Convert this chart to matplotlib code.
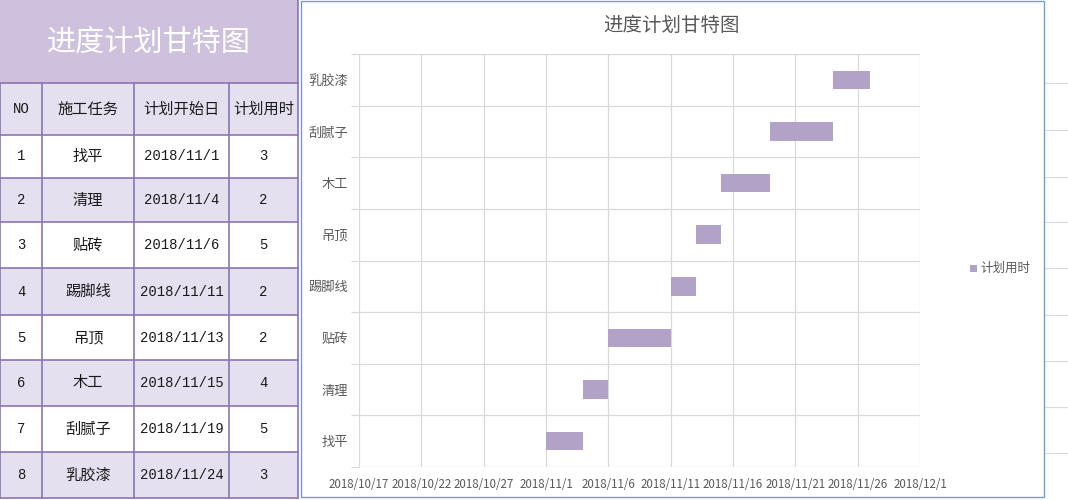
import datetime as dt
import matplotlib
matplotlib.use("Agg")
import matplotlib.pyplot as plt
import matplotlib.dates as mdates
from matplotlib.patches import Rectangle
from matplotlib.ticker import FuncFormatter, FixedLocator

plt.rcParams['font.family'] = ['Noto Sans CJK SC', 'DejaVu Sans']

# ---------------- data ----------------
title = "进度计划甘特图"
headers = ["NO", "施工任务", "计划开始日", "计划用时"]
nos = [1, 2, 3, 4, 5, 6, 7, 8]
tasks = ["找平", "清理", "贴砖", "踢脚线", "吊顶", "木工", "刮腻子", "乳胶漆"]
start_dates = ["2018/11/1", "2018/11/4", "2018/11/6", "2018/11/11",
               "2018/11/13", "2018/11/15", "2018/11/19", "2018/11/24"]
durations = [3, 2, 5, 2, 2, 4, 5, 3]
legend_label = "计划用时"
x_min_date = "2018/10/17"
x_max_date = "2018/12/1"
tick_step_days = 5

def parse(s):
    y, m, d = (int(v) for v in s.split("/"))
    return dt.date(y, m, d)

W, H = 1068, 500
fig = plt.figure(figsize=(W / 100, H / 100), dpi=100)
fig.patch.set_facecolor("white")

# ---------------- background / table layer ----------------
bg = fig.add_axes([0, 0, 1, 1])
bg.set_xlim(0, W)
bg.set_ylim(H, 0)
bg.axis("off")

purple_title = "#cdc1dd"
lav = "#e5e0ef"
border = "#8c74b4"
cols = [0, 42, 134, 229, 298]
rows = [83, 135, 178, 222, 268, 315, 360, 406, 452, 498]

# spreadsheet gridlines at right edge
for yy in [83, 130, 177, 222, 268, 315, 361, 407, 453]:
    bg.plot([1044, W], [yy, yy], color="#d9d9d9", lw=0.8, zorder=0)

# title cell
bg.add_patch(Rectangle((0, 0), 298, 83, facecolor=purple_title, edgecolor="none", zorder=1))
bg.text(149, 43, title, color="white", fontsize=21, ha="center", va="center", zorder=3)

# header + rows
for r in range(len(rows) - 1):
    y0, y1 = rows[r], rows[r + 1]
    fc = lav if r % 2 == 0 else "white"
    bg.add_patch(Rectangle((0, y0), 298, y1 - y0, facecolor=fc, edgecolor="none", zorder=1))
    yc = (y0 + y1) / 2
    if r == 0:
        vals = headers
    else:
        i = r - 1
        vals = [str(nos[i]), tasks[i], start_dates[i], str(durations[i])]
    for c, v in enumerate(vals):
        xc = (cols[c] + cols[c + 1]) / 2
        is_num = (r > 0 and c != 1) or (r == 0 and c == 0)
        if is_num:
            bg.text(xc, yc, v, fontsize=10, ha="center", va="center", color="#1a1a1a",
                    family=["Liberation Mono", "Noto Sans CJK SC"], zorder=3)
        else:
            bg.text(xc, yc, v, fontsize=11, ha="center", va="center", color="#1a1a1a", zorder=3)

for yy in rows:
    bg.plot([0, 298], [yy, yy], color=border, lw=1.2, zorder=2)
for xx in cols:
    bg.plot([xx, xx], [rows[0], rows[-1]], color=border, lw=1.2, zorder=2)
bg.plot([298, 298], [0, 83], color=border, lw=1.2, zorder=2)

# chart frame
bg.add_patch(Rectangle((300.5, 1), 743.5, 496, facecolor="white", edgecolor="#6f9bd6", lw=1.0, zorder=1))
bg.text(672, 25, title, color="#595959", fontsize=14, ha="center", va="center", zorder=3)

# legend
bg.add_patch(Rectangle((970, 265), 7, 7, facecolor="#b3a2c7", edgecolor="none", zorder=3))
bg.text(980, 268.5, legend_label, color="#595959", fontsize=9, ha="left", va="center", zorder=3)

# ---------------- gantt axes ----------------
px_l, px_r, px_t, px_b = 359, 920, 54, 467
ax = fig.add_axes([px_l / W, (H - px_b) / H, (px_r - px_l) / W, (px_b - px_t) / H])
ax.set_facecolor("none")

starts = [mdates.date2num(parse(s)) for s in start_dates]
ypos = list(range(len(tasks)))
ax.barh(ypos, durations, left=starts, height=0.36, color="#b3a2c7", zorder=3)

x0 = mdates.date2num(parse(x_min_date))
x1 = mdates.date2num(parse(x_max_date))
ax.set_xlim(x0, x1)
ax.xaxis.set_major_locator(FixedLocator(
    [x0 + k * tick_step_days for k in range(int((x1 - x0) // tick_step_days) + 1)]))

def fmt(v, pos):
    d = mdates.num2date(v)
    return f"{d.year}/{d.month}/{d.day}"
ax.xaxis.set_major_formatter(FuncFormatter(fmt))

ax.set_ylim(-0.5, len(tasks) - 0.5)
ax.set_yticks(ypos)
ax.set_yticklabels(tasks)
ax.set_yticks([k - 0.5 for k in range(len(tasks) + 1)], minor=True)

ax.grid(True, axis="x", which="major", color="#d9d9d9", lw=0.9, zorder=0)
ax.grid(True, axis="y", which="minor", color="#d9d9d9", lw=0.9, zorder=0)
for s in ax.spines.values():
    s.set_visible(False)
ax.tick_params(axis="y", which="major", length=0, pad=8, labelsize=9.5, labelcolor="#595959")
ax.tick_params(axis="y", which="minor", length=6, color="#d9d9d9", width=0.9)
ax.tick_params(axis="x", which="major", length=0, pad=8, labelsize=8.3, labelcolor="#595959")

fig.savefig("out.png", dpi=100)
